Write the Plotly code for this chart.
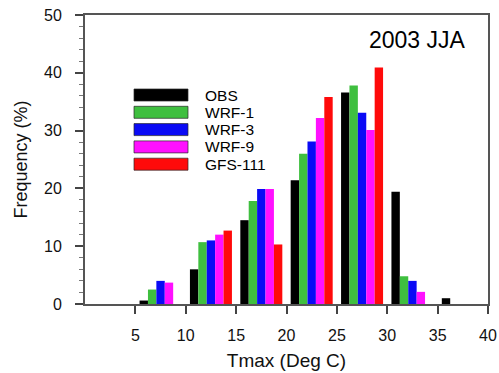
import plotly.graph_objects as go

# Bin centres (Tmax, deg C)
bins = [7.5, 12.5, 17.5, 22.5, 27.5, 32.5, 37.5]

series_names = ["OBS", "WRF-1", "WRF-3", "WRF-9", "GFS-111"]
obs    = [0.6, 6.0, 14.5, 21.4, 36.6, 19.4, 1.0]
wrf1   = [2.5, 10.7, 17.8, 26.0, 37.8, 4.8, 0.0]
wrf3   = [4.0, 11.0, 19.9, 28.1, 33.1, 4.0, 0.0]
wrf9   = [3.7, 12.0, 19.9, 32.2, 30.1, 2.1, 0.0]
gfs111 = [0.0, 12.7, 10.3, 35.8, 40.9, 0.0, 0.0]
series_values = [obs, wrf1, wrf3, wrf9, gfs111]
colors = ["#000000", "#3fbf3f", "#0a0af5", "#ff10ff", "#ff0a0a"]

x_ticks = [5, 10, 15, 20, 25, 30, 35, 40]
y_ticks = [0, 10, 20, 30, 40, 50]

font = "Liberation Sans, Arial, Helvetica, sans-serif"

fig = go.Figure()
for name, vals, col in zip(series_names, series_values, colors):
    fig.add_trace(go.Bar(
        x=bins, y=vals, name=name, marker_color=col,
        marker_line_width=0, showlegend=False,
    ))

# Plot area in page pixels
L = 85; R = 488; T = 15; B = 304
W = R - L; H = B - T
def px(x):
    return (x - L) / W
def py(y):
    return (B - y) / H

row0 = 95
step = 17.3
shapes = []
annotations = []
for i, (name, col) in enumerate(zip(series_names, colors)):
    yc = row0 + i * step
    shapes.append(dict(type="rect", xref="paper", yref="paper",
                       x0=px(134), x1=px(188), y0=py(yc + 6), y1=py(yc - 6),
                       fillcolor=col, line=dict(color="rgba(40,40,40,0.7)", width=1)))
    annotations.append(dict(xref="paper", yref="paper", x=px(203), y=py(yc),
                            text=name, showarrow=False, xanchor="left", yanchor="middle",
                            font=dict(family=font, size=15.5, color="#000")))

annotations.append(dict(xref="paper", yref="paper", x=px(417), y=py(40),
                        text="2003 JJA", showarrow=False, xanchor="center", yanchor="middle",
                        font=dict(family=font, size=23, color="#000")))

fig.update_layout(
    template="none",
    width=499, height=373,
    margin=dict(l=L, r=499 - R, t=T, b=373 - B, autoexpand=False),
    paper_bgcolor="white", plot_bgcolor="white",
    barmode="group", bargap=0.166, bargroupgap=0,
    shapes=shapes, annotations=annotations,
    showlegend=False,
    font=dict(family=font, color="#111"),
)
fig.update_xaxes(
    automargin=False,
    range=[0, 40], tickvals=x_ticks, ticktext=[str(v) for v in x_ticks],
    ticks="outside", ticklen=8, tickwidth=1.5, tickcolor="#444",
    showline=True, linecolor="#555", linewidth=2, mirror=True,
    showgrid=False, zeroline=False,
    tickfont=dict(family=font, size=16, color="#111"), ticklabelstandoff=8,
    title=dict(text="Tmax (Deg C)", font=dict(family=font, size=19, color="#111"), standoff=10),
)
fig.update_yaxes(
    automargin=False,
    range=[0, 50], tickvals=y_ticks,
    ticks="outside", ticklen=8, tickwidth=1.5, tickcolor="#444",
    minor=dict(ticks="outside", ticklen=4, dtick=2, tickcolor="#777", tickwidth=1),
    showline=True, linecolor="#555", linewidth=2, mirror=True,
    showgrid=False, zeroline=False,
    tickfont=dict(family=font, size=16, color="#111"), ticklabelstandoff=10,
    title=dict(text="Frequency (%)", font=dict(family=font, size=18, color="#111"), standoff=12),
)

fig.write_html("out.html", config={"displayModeBar": False},
               post_script="document.body.style.margin='0';document.body.style.overflow='hidden';")
